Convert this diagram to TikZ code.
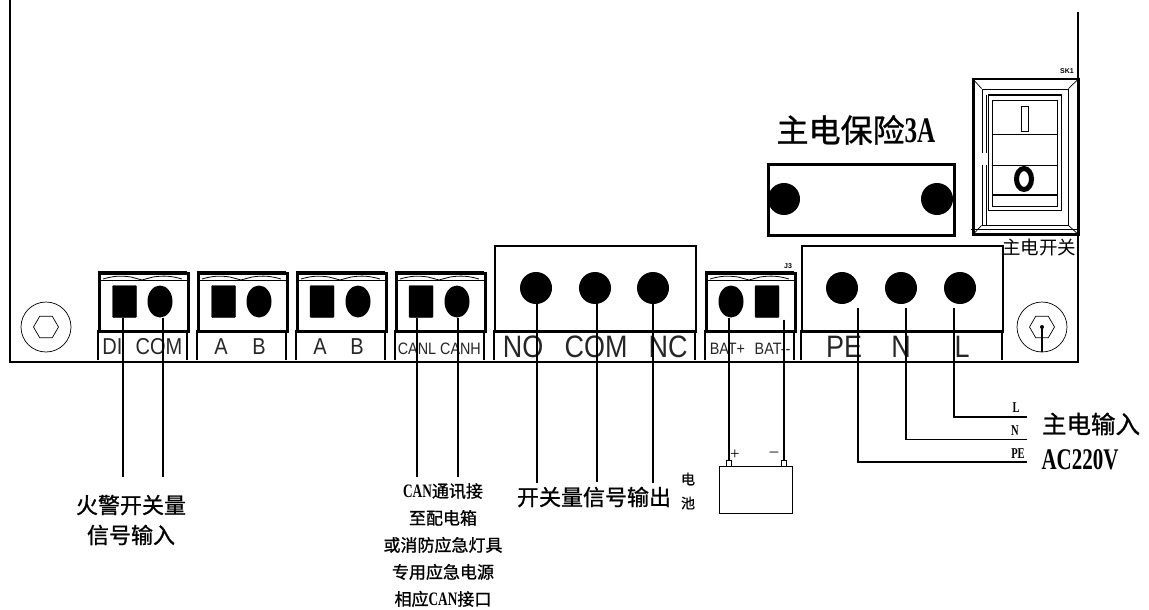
\documentclass[tikz,border=0pt]{standalone}
\usepackage{fontspec}
\setmainfont{Liberation Serif}
\setsansfont{Liberation Sans}
\newfontfamily\cjk{Noto Sans CJK SC}
\newfontfamily\cjkm[FakeBold=1]{Noto Sans CJK SC}
\newfontfamily\nsans[FakeStretch=0.87]{Liberation Sans}
\newfontfamily\nserif[FakeStretch=0.7]{Liberation Serif}
\newcommand{\canword}{{\fontsize{19}{19}\nserif\bfseries\selectfont CAN}}
\usetikzlibrary{shapes.geometric,positioning,calc}
\tikzset{%
	% Specifications for style of nodes:
	base/.style = {rectangle, draw=black, inner sep=0pt},
	block/.style = {base, line width=3pt, minimum width=89pt, minimum height=58pt},
	bigblock/.style = {base, line width=1.5pt, minimum width=201pt, minimum height=85pt},
	pinsq/.style = {base, fill=black, rounded corners=1pt, minimum width=24pt, minimum height=32pt},
	pinov/.style = {ellipse, fill=black, inner sep=0pt, minimum width=25pt, minimum height=32pt},
	pinbig/.style = {circle, fill=black, inner sep=0pt, minimum size=32pt},
	screw/.style = {circle, draw=black, line width=.7pt, inner sep=0pt, minimum size=50pt},
	hexa/.style = {regular polygon, regular polygon sides=6, draw=black, line width=.7pt, inner sep=0pt, minimum size=25pt},
	wire/.style = {line width=1.3pt},
	tick/.style = {line width=1.2pt},
	lab/.style = {inner sep=0pt, text=black!85, font=\fontsize{#1}{#1}\nsans\selectfont},
	cn/.style = {inner sep=0pt, align=center, font=\fontsize{#1}{#1}\cjkm\selectfont},
	sr/.style = {inner sep=0pt, font=\fontsize{#1}{#1}\nserif\bfseries\selectfont}
}
\begin{document}
\begin{tikzpicture}[x=1pt,y=-1pt]
	\useasboundingbox (0,0) rectangle (1149,610);
	% board outline
	\coordinate (bl) at (10,362);
	\coordinate (br) at (1078,362);
	\draw[line width=1.3pt] (10,0) -- (bl) -- (br) -- (1078,12);
	
	% two pin terminal blocks
	\foreach \x/\n in {98/a,197/b,296/c,395/d,705/e}{
		\node (blk\n) [block, anchor=north west] at (\x,272) {};
		\draw[line width=3pt] (\x,272) -- ++(89,0);
		\draw[line width=.8pt] (\x,280) -- ++(89,0);
		\draw[line width=.8pt] (\x+5,279) to[bend left=12] (\x+33,277) -- (\x+44,280)
			-- (\x+55,277) to[bend left=12] (\x+84,279);
		\draw[tick] (\x,330) -- ++(0,30) (\x+89,330) -- ++(0,30);
	}
	\node (pinDI) [pinsq] at (124.5,301.5) {};
	\node (pinCOM) [pinov] at (160,301.5) {};
	\node (pinAa) [pinsq] at (223.5,301.5) {};
	\node (pinBa) [pinov] at (259,301.5) {};
	\node (pinAb) [pinsq] at (322,301.5) {};
	\node (pinBb) [pinov] at (358,301.5) {};
	\node (pinCL) [pinsq] at (421,301.5) {};
	\node (pinCH) [pinov] at (457,301.5) {};
	\node (pinBP) [pinov] at (731,301.5) {};
	\node (pinBM) [pinsq] at (767,301.5) {};
	
	% large terminal blocks
	\node (blkout) [bigblock, anchor=north west] at (494,245) {};
	\node (blkin) [bigblock, anchor=north west] at (801,245) {};
	\foreach \x in {494,695,801,1002}{
		\draw[tick] (\x,330) -- ++(0,30);
	}
	\draw[line width=3pt] (blkout.south west) -- (blkout.south east);
	\draw[line width=3pt] (blkin.south west) -- (blkin.south east);
	\node (pinNO) [pinbig] at (536,288) {};
	\node (pinCO) [pinbig] at (595,288) {};
	\node (pinNC) [pinbig] at (653,288) {};
	\node (pinPE) [pinbig] at (842,288) {};
	\node (pinN) [pinbig] at (901,288) {};
	\node (pinL) [pinbig] at (960,288) {};
	
	% screws
	\node (scrl) [screw] at (46,327) {};
	\node (hexl) [hexa] at (46,327) {};
	\node (scrr) [screw] at (1042,327) {};
	\node (hexr) [hexa] at (1042,327) {};
	\draw[wire] (scrr.center) -- (scrr.south);
	\fill (scrr.center) circle (2pt);
	
	% fuse
	\node (fuse) [base, line width=3pt, minimum width=186pt, minimum height=71pt, anchor=north west] at (767,163) {};
	\node (fusl) [pinbig] at (784,199) {};
	\node (fusr) [pinbig] at (937,199) {};
	\node (fuselab) [cn=32] at (856,130) {主电保险{\fontsize{36}{36}\nserif\bfseries\selectfont 3A}};
	
	% switch
	\node (sw) [base, line width=2.5pt, minimum width=105pt, minimum height=155pt, anchor=north west] at (972,78) {};
	\node (swb) [base, line width=.8pt, minimum width=86pt, minimum height=136pt] at (1025,157) {};
	\node (swc) [base, line width=1pt, minimum width=73pt, minimum height=115pt] at (1024.5,152.5) {};
	\node (swd) [base, line width=.8pt, minimum width=65pt, minimum height=106pt] at (1024.5,153) {};
	\draw[line width=.7pt] (sw.north west) -- (swb.north west) (sw.north east) -- (swb.north east)
		(sw.south west) -- (swb.south west) (sw.south east) -- (swb.south east);
	\draw[line width=.7pt] (971,229) -- (1078,229);
	\draw[line width=.7pt] (986,95) -- (986,225);
	\draw[line width=1pt] (swd.west |- 0,134) -- (swd.east |- 0,134);
	\draw[line width=1pt] (swd.west |- 0,165) -- (swd.east |- 0,165);
	\draw[line width=2pt] (swd.west |- 0,195) -- (swd.east |- 0,195);
	\fill[white] (980.5,153) rectangle (986.5,165);
	\node (swbar) [base, line width=1pt, minimum width=7pt, minimum height=25pt] at (1024.5,118.5) {};
	\node (swo) [ellipse, draw=black, line width=5pt, inner sep=0pt, minimum width=15pt, minimum height=21pt] at (1024,179) {};
	\node (swlab) [font=\fontsize{7}{7}\sffamily\bfseries\selectfont, inner sep=0pt] at (1067,71) {SK1};
	\node (j3) [font=\fontsize{7}{7}\sffamily\bfseries\selectfont, inner sep=0pt] at (788,266) {J3};
	\node (swtxt) [cn=18, font=\fontsize{18.5}{18.5}\cjk\selectfont] at (1039,248) {主电开关};
	
	% terminal labels
	\node (tDI) [lab=23] at (112.5,347) {DI};
	\node (tCOM) [lab=23] at (159,347) {COM};
	\node (tAa) [lab=23] at (221,347) {A};
	\node (tBa) [lab=23] at (259,347) {B};
	\node (tAb) [lab=23] at (320,347) {A};
	\node (tBb) [lab=23] at (357,347) {B};
	\node (tCL) [lab=16.5] at (417,349) {CANL};
	\node (tCH) [lab=16.5] at (460.5,349) {CANH};
	\node (tNO) [lab=31] at (523,347) {NO};
	\node (tCO) [lab=31] at (596,347) {COM};
	\node (tNC) [lab=31] at (668,347) {NC};
	\node (tBP) [lab=16.5] at (727.5,349) {BAT+};
	\node (tBM) [lab=16.5] at (772.5,349) {BAT--};
	\node (tPE) [lab=31] at (844,347) {PE};
	\node (tN) [lab=31] at (901,347) {N};
	\node (tL) [lab=31] at (962,347) {L};
	
	% battery
	\node (bat) [base, line width=1.2pt, minimum width=73pt, minimum height=47pt, anchor=north west] at (719,466) {};
	\node (batp) [base, line width=.8pt, minimum width=5pt, minimum height=6pt] at (729,463) {};
	\node (batm) [base, line width=.8pt, minimum width=5pt, minimum height=6pt] at (784,463) {};
	\node (pl) [font=\fontsize{17}{17}\rmfamily\selectfont, inner sep=0pt] at (735,455) {+};
	\node (mi) [font=\fontsize{17}{17}\rmfamily\selectfont, inner sep=0pt] at (774,454) {--};
	
	% wires
	\coordinate (endDI) at (123,477);
	\coordinate (endCOM) at (163,477);
	\coordinate (endCL) at (417,477);
	\coordinate (endCH) at (458,477);
	\coordinate (endNO) at (537,483);
	\coordinate (endCO) at (597,482);
	\coordinate (endNC) at (653,483);
	\draw[wire] (endDI |- pinDI.south) -- (endDI);
	\draw[wire] (endCOM |- pinCOM.south) -- (endCOM);
	\draw[wire] (endCL |- pinCL.south) -- (endCL);
	\draw[wire] (endCH |- pinCH.south) -- (endCH);
	\draw[wire] (endNO |- pinNO.south) -- (endNO);
	\draw[wire] (endCO |- pinCO.south) -- (endCO);
	\draw[wire] (endNC |- pinNC.south) -- (endNC);
	\draw[wire] (batp |- pinBP.south) -- (batp.north);
	\draw[wire, shorten <=2pt] (batm |- pinBM.south) -- (batm.north);
	\coordinate (viaL) at (954,417);
	\coordinate (viaN) at (906,439.5);
	\coordinate (viaPE) at (858,462);
	\coordinate (endL) at (1027,417);
	\coordinate (endN) at (1027,439.5);
	\coordinate (endPE) at (1027,462);
	\draw[wire, shorten <=4pt] (viaL |- pinL.south) -- (viaL) -- (endL);
	\draw[wire, shorten <=4pt] (viaN |- pinN.south) -- (viaN) -- (endN);
	\draw[wire, shorten <=4pt] (viaPE |- pinPE.south) -- (viaPE) -- (endPE);
	\node (wL) [sr=15] at (1016,408) {L};
	\node (wN) [sr=15] at (1015,431) {N};
	\node (wPE) [sr=15] at (1018,454) {PE};
	
	% captions
	\node (capin) [cn=24.5] at (1091,424) {主电输入};
	\node (capac) [sr=30] at (1080,460) {AC220V};
	\node (capfire) [cn=22] at (131,520) {火警开关量\\[8pt]信号输入};
	\node (capcan) [cn=17] at (443,545) {\canword 通讯接\\[10pt]至配电箱\\[10pt]或消防应急灯具\\[10pt]专用应急电源\\[10pt]相应\canword 接口};
	\node (capout) [cn=22] at (594,497) {开关量信号输出};
	\node (capbat) [cn=14] at (688,491) {电\\[10pt]池};
\end{tikzpicture}
\end{document}
